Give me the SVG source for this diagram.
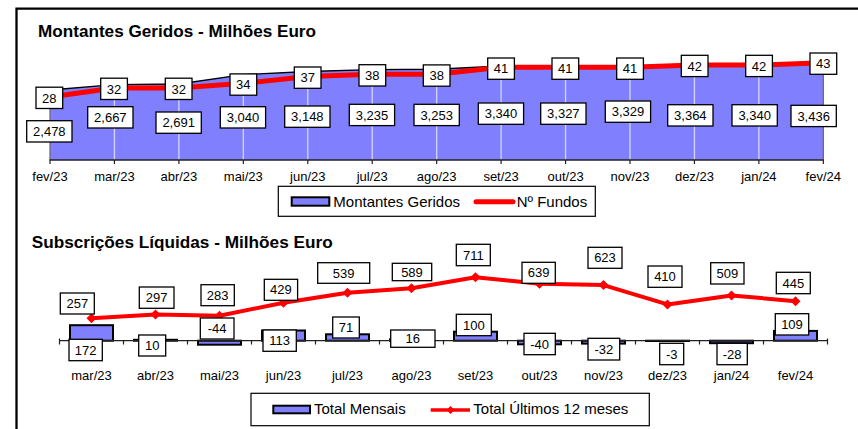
<svg xmlns="http://www.w3.org/2000/svg" width="858" height="429" viewBox="0 0 858 429">
<style>
text{font-family:"Liberation Sans",Arial,sans-serif;fill:#000}
.title{font-size:16.5px;font-weight:bold}
.ax{font-size:13px;text-anchor:middle}
.lbl{font-size:13px;text-anchor:middle}
.leg{font-size:15px}
.box{fill:#fff;stroke:#000;stroke-width:1.3}
.grid{stroke:#d4d4ff;stroke-width:1.3}
.bar{fill:#8080ff;stroke:#000;stroke-width:2}
.tick{stroke:#222;stroke-width:1.2}
</style>
<defs>
<path id="dia" d="M0,-5 L5,0 L0,5 L-5,0 Z" fill="#ff0000"/>
<path id="diaS" d="M0,-4 L4,0 L0,4 L-4,0 Z" fill="#ff0000"/>
</defs>
<rect width="858" height="429" fill="#fff"/>
<g id="frame" fill="none" stroke="#000" stroke-width="2.3">
<path d="M16.5,429 V8.7 H858"/>
</g>

<g id="chart1">
<text class="title" x="38" y="36.7" textLength="278" lengthAdjust="spacingAndGlyphs">Montantes Geridos - Milhões Euro</text>
<g id="area1">
<polygon fill="#8080ff" points="50,160 50,90 114.44,84.66 178.89,83.98 243.33,74.6 307.78,71.5 372.22,69.6 436.67,69.3 501.11,66 565.56,66 630,66 694.44,65 758.89,65.6 823.33,62.9 823.33,160"/>
<g class="grid">
<line x1="114.44" y1="85" x2="114.44" y2="160"/>
<line x1="178.89" y1="84" x2="178.89" y2="160"/>
<line x1="243.33" y1="75" x2="243.33" y2="160"/>
<line x1="307.78" y1="72" x2="307.78" y2="160"/>
<line x1="372.22" y1="70" x2="372.22" y2="160"/>
<line x1="436.67" y1="70" x2="436.67" y2="160"/>
<line x1="501.11" y1="67" x2="501.11" y2="160"/>
<line x1="565.56" y1="67" x2="565.56" y2="160"/>
<line x1="630" y1="67" x2="630" y2="160"/>
<line x1="694.44" y1="66" x2="694.44" y2="160"/>
<line x1="758.89" y1="66" x2="758.89" y2="160"/>
</g>
<polyline fill="none" stroke="#000" stroke-width="1.4" points="50,90 114.44,84.66 178.89,83.98 243.33,74.6 307.78,71.5 372.22,69.6 436.67,69.3 501.11,66 565.56,66 630,66 694.44,65 758.89,65.6 823.33,62.9"/>
<line x1="50" y1="90" x2="50" y2="160" stroke="#666" stroke-width="1.2"/>
<line x1="823.33" y1="63" x2="823.33" y2="160" stroke="#666" stroke-width="1.2"/>
</g>
<g id="axis1">
<line x1="49.5" y1="160" x2="823.8" y2="160" stroke="#222" stroke-width="1.6"/>
<g class="tick">
<line x1="50" y1="160" x2="50" y2="164"/><line x1="114.44" y1="160" x2="114.44" y2="164"/><line x1="178.89" y1="160" x2="178.89" y2="164"/><line x1="243.33" y1="160" x2="243.33" y2="164"/><line x1="307.78" y1="160" x2="307.78" y2="164"/><line x1="372.22" y1="160" x2="372.22" y2="164"/><line x1="436.67" y1="160" x2="436.67" y2="164"/><line x1="501.11" y1="160" x2="501.11" y2="164"/><line x1="565.56" y1="160" x2="565.56" y2="164"/><line x1="630" y1="160" x2="630" y2="164"/><line x1="694.44" y1="160" x2="694.44" y2="164"/><line x1="758.89" y1="160" x2="758.89" y2="164"/><line x1="823.33" y1="160" x2="823.33" y2="164"/>
</g>
<text class="ax" x="50" y="181">fev/23</text>
<text class="ax" x="114.44" y="181">mar/23</text>
<text class="ax" x="178.89" y="181">abr/23</text>
<text class="ax" x="243.33" y="181">mai/23</text>
<text class="ax" x="307.78" y="181">jun/23</text>
<text class="ax" x="372.22" y="181">jul/23</text>
<text class="ax" x="436.67" y="181">ago/23</text>
<text class="ax" x="501.11" y="181">set/23</text>
<text class="ax" x="565.56" y="181">out/23</text>
<text class="ax" x="630" y="181">nov/23</text>
<text class="ax" x="694.44" y="181">dez/23</text>
<text class="ax" x="758.89" y="181">jan/24</text>
<text class="ax" x="823.33" y="181">fev/24</text>
</g>
<g id="fundos-line">
<polyline fill="none" stroke="#ff0000" stroke-width="5" stroke-linejoin="round" points="50,97 114.44,88 178.89,88 243.33,83.3 307.78,76.5 372.22,74.2 436.67,74.2 501.11,67.3 565.56,67.3 630,67.3 694.44,65 758.89,65 823.33,62.8"/>
</g>
<g id="labels1">
<rect class="box" x="26.7" y="120.7" width="45.3" height="21.3"/><text class="lbl" x="49.35" y="136">2,478</text>
<rect class="box" x="87.7" y="106.7" width="45.3" height="21.3"/><text class="lbl" x="110.35" y="122">2,667</text>
<rect class="box" x="156" y="112" width="45.3" height="21.3"/><text class="lbl" x="178.65" y="127.3">2,691</text>
<rect class="box" x="220.3" y="106.7" width="45.3" height="21.3"/><text class="lbl" x="242.95" y="122">3,040</text>
<rect class="box" x="284.7" y="106" width="45.3" height="21.3"/><text class="lbl" x="307.35" y="121.3">3,148</text>
<rect class="box" x="349.3" y="104.3" width="45.3" height="21.3"/><text class="lbl" x="371.95" y="119.6">3,235</text>
<rect class="box" x="414" y="104.3" width="45.3" height="21.3"/><text class="lbl" x="436.65" y="119.6">3,253</text>
<rect class="box" x="478.3" y="103" width="45.3" height="21.3"/><text class="lbl" x="500.95" y="118.3">3,340</text>
<rect class="box" x="540.7" y="103" width="45.3" height="21.3"/><text class="lbl" x="563.35" y="118.3">3,327</text>
<rect class="box" x="605.3" y="101" width="45.3" height="21.3"/><text class="lbl" x="627.95" y="116.3">3,329</text>
<rect class="box" x="667.7" y="104.7" width="45.3" height="21.3"/><text class="lbl" x="690.35" y="120">3,364</text>
<rect class="box" x="732" y="104.7" width="45.3" height="21.3"/><text class="lbl" x="754.65" y="120">3,340</text>
<rect class="box" x="791" y="105.3" width="45.3" height="21.3"/><text class="lbl" x="813.65" y="120.6">3,436</text>

<rect class="box" x="36" y="87.2" width="26.7" height="21.3"/><text class="lbl" x="49.35" y="102.5">28</text>
<rect class="box" x="100.7" y="78.2" width="26.7" height="21.3"/><text class="lbl" x="114.05" y="93.5">32</text>
<rect class="box" x="165.3" y="78.2" width="26.7" height="21.3"/><text class="lbl" x="178.65" y="93.5">32</text>
<rect class="box" x="230" y="73.9" width="26.7" height="21.3"/><text class="lbl" x="243.35" y="89.2">34</text>
<rect class="box" x="294.3" y="67" width="26.7" height="21.3"/><text class="lbl" x="307.65" y="82.3">37</text>
<rect class="box" x="359" y="64.7" width="26.7" height="21.3"/><text class="lbl" x="372.35" y="80">38</text>
<rect class="box" x="423.3" y="64.9" width="26.7" height="21.3"/><text class="lbl" x="436.65" y="80.2">38</text>
<rect class="box" x="487.7" y="58" width="26.7" height="21.3"/><text class="lbl" x="501.05" y="73.3">41</text>
<rect class="box" x="552" y="58" width="26.7" height="21.3"/><text class="lbl" x="565.35" y="73.3">41</text>
<rect class="box" x="616.7" y="58" width="26.7" height="21.3"/><text class="lbl" x="630.05" y="73.3">41</text>
<rect class="box" x="681.3" y="55.3" width="26.7" height="21.3"/><text class="lbl" x="694.65" y="70.6">42</text>
<rect class="box" x="745.7" y="55.3" width="26.7" height="21.3"/><text class="lbl" x="759.05" y="70.6">42</text>
<rect class="box" x="810" y="53" width="26.7" height="21.3"/><text class="lbl" x="823.35" y="68.3">43</text>
</g>
<g id="legend1">
<rect x="278.3" y="186.3" width="317" height="30" fill="#fff" stroke="#000" stroke-width="1.2"/>
<rect x="291.7" y="197.3" width="37.6" height="8.4" fill="#8080ff" stroke="#000" stroke-width="2"/>
<text class="leg" x="333.3" y="207">Montantes Geridos</text>
<line x1="476" y1="201.7" x2="513" y2="201.7" stroke="#ff0000" stroke-width="5" stroke-linecap="round"/>
<text class="leg" x="516.7" y="207">Nº Fundos</text>
</g>
</g>

<g id="chart2">
<text class="title" x="31.7" y="248.3" textLength="301" lengthAdjust="spacingAndGlyphs">Subscrições Líquidas - Milhões Euro</text>
<g id="bars">
<rect class="bar" x="70" y="325.2" width="43" height="15.5"/>
<rect class="bar" x="134" y="339.8" width="43" height="0.9"/>
<rect class="bar" x="198" y="340.7" width="43" height="4"/>
<rect class="bar" x="262" y="330.5" width="43" height="10.2"/>
<rect class="bar" x="326" y="334.3" width="43" height="6.4"/>
<rect class="bar" x="390" y="339.3" width="43" height="1.4"/>
<rect class="bar" x="454" y="331.7" width="43" height="9"/>
<rect class="bar" x="518" y="340.7" width="43" height="3.6"/>
<rect class="bar" x="582" y="340.7" width="43" height="2.9"/>
<rect class="bar" x="646" y="340.7" width="43" height="0.3"/>
<rect class="bar" x="710" y="340.7" width="43" height="2.5"/>
<rect class="bar" x="774" y="330.9" width="43" height="9.8"/>
</g>
<g id="axis2">
<line x1="59.5" y1="340.7" x2="827.5" y2="340.7" stroke="#222" stroke-width="1.3"/>
<g class="tick">
<line x1="59.5" y1="338.5" x2="59.5" y2="344.5"/><line x1="123.5" y1="340.7" x2="123.5" y2="344.5"/><line x1="187.5" y1="340.7" x2="187.5" y2="344.5"/><line x1="251.5" y1="340.7" x2="251.5" y2="344.5"/><line x1="315.5" y1="340.7" x2="315.5" y2="344.5"/><line x1="379.5" y1="340.7" x2="379.5" y2="344.5"/><line x1="443.5" y1="340.7" x2="443.5" y2="344.5"/><line x1="507.5" y1="340.7" x2="507.5" y2="344.5"/><line x1="571.5" y1="340.7" x2="571.5" y2="344.5"/><line x1="635.5" y1="340.7" x2="635.5" y2="344.5"/><line x1="699.5" y1="340.7" x2="699.5" y2="344.5"/><line x1="763.5" y1="340.7" x2="763.5" y2="344.5"/><line x1="827.5" y1="338.5" x2="827.5" y2="344.5"/>
</g>
<text class="ax" x="91.5" y="380.3">mar/23</text>
<text class="ax" x="155.5" y="380.3">abr/23</text>
<text class="ax" x="219.5" y="380.3">mai/23</text>
<text class="ax" x="283.5" y="380.3">jun/23</text>
<text class="ax" x="347.5" y="380.3">jul/23</text>
<text class="ax" x="411.5" y="380.3">ago/23</text>
<text class="ax" x="475.5" y="380.3">set/23</text>
<text class="ax" x="539.5" y="380.3">out/23</text>
<text class="ax" x="603.5" y="380.3">nov/23</text>
<text class="ax" x="667.5" y="380.3">dez/23</text>
<text class="ax" x="731.5" y="380.3">jan/24</text>
<text class="ax" x="795.5" y="380.3">fev/24</text>
</g>
<g id="total12-line">
<polyline fill="none" stroke="#ff0000" stroke-width="4" stroke-linejoin="round" points="91.5,318.2 155.5,314.6 219.5,315.8 283.5,302.7 347.5,292.7 411.5,288.2 475.5,277.2 539.5,283.7 603.5,285.1 667.5,304.4 731.5,295.4 795.5,301.2"/>
<use href="#dia" x="91.5" y="318.2"/><use href="#dia" x="155.5" y="314.6"/><use href="#dia" x="219.5" y="315.8"/><use href="#dia" x="283.5" y="302.7"/><use href="#dia" x="347.5" y="292.7"/><use href="#dia" x="411.5" y="288.2"/><use href="#dia" x="475.5" y="277.2"/><use href="#dia" x="539.5" y="283.7"/><use href="#dia" x="603.5" y="285.1"/><use href="#dia" x="667.5" y="304.4"/><use href="#dia" x="731.5" y="295.4"/><use href="#dia" x="795.5" y="301.2"/>
</g>
<g id="labels2">
<rect class="box" x="60.3" y="293" width="34" height="21"/><text class="lbl" x="77.3" y="308.1">257</text>
<rect class="box" x="139.3" y="287" width="34.7" height="21.3"/><text class="lbl" x="156.65" y="302.3">297</text>
<rect class="box" x="201" y="284.7" width="33.3" height="21"/><text class="lbl" x="217.65" y="299.8">283</text>
<rect class="box" x="264.3" y="279.3" width="33.3" height="21"/><text class="lbl" x="280.95" y="294.4">429</text>
<rect class="box" x="317.7" y="262.7" width="52" height="20.6"/><text class="lbl" x="343.7" y="277.6">539</text>
<rect class="box" x="392.3" y="263.3" width="39.4" height="17.4"/><text class="lbl" x="412" y="276.6">589</text>
<rect class="box" x="456.3" y="244.3" width="34" height="21.4"/><text class="lbl" x="473.3" y="259.6">711</text>
<rect class="box" x="522" y="262.3" width="33.3" height="21"/><text class="lbl" x="538.65" y="277.4">639</text>
<rect class="box" x="588" y="247.3" width="34" height="21"/><text class="lbl" x="605" y="262.4">623</text>
<rect class="box" x="648" y="266" width="34" height="21.3"/><text class="lbl" x="665" y="281.3">410</text>
<rect class="box" x="710.7" y="262.7" width="33.3" height="21.3"/><text class="lbl" x="727.35" y="278">509</text>
<rect class="box" x="776.3" y="272.3" width="34" height="21.4"/><text class="lbl" x="793.3" y="287.6">445</text>

<rect class="box" x="69" y="339.3" width="33.3" height="21.4"/><text class="lbl" x="85.65" y="354.6">172</text>
<rect class="box" x="138.7" y="335" width="27" height="21"/><text class="lbl" x="152.2" y="350.1">10</text>
<rect class="box" x="200.3" y="318" width="33.7" height="21"/><text class="lbl" x="217.15" y="333.1">-44</text>
<rect class="box" x="263" y="330" width="33.3" height="21.3"/><text class="lbl" x="279.65" y="345.3">113</text>
<rect class="box" x="332.7" y="317" width="26.6" height="21"/><text class="lbl" x="346" y="332.1">71</text>
<rect class="box" x="390.7" y="330" width="44.3" height="17.3"/><text class="lbl" x="412.85" y="343.3">16</text>
<rect class="box" x="456.3" y="314.3" width="35" height="21.4"/><text class="lbl" x="473.8" y="329.6">100</text>
<rect class="box" x="524" y="333.3" width="31.3" height="21.4"/><text class="lbl" x="539.65" y="348.6">-40</text>
<rect class="box" x="588" y="338.3" width="31.7" height="21.7"/><text class="lbl" x="603.85" y="353.8">-32</text>
<rect class="box" x="659.7" y="343.3" width="24" height="21.4"/><text class="lbl" x="671.7" y="358.6">-3</text>
<rect class="box" x="717" y="343.3" width="30.3" height="21.4"/><text class="lbl" x="732.15" y="358.6">-28</text>
<rect class="box" x="775.3" y="313.7" width="33.4" height="21.3"/><text class="lbl" x="792" y="329">109</text>
</g>
<g id="legend2">
<rect x="251" y="393.3" width="398.3" height="32.4" fill="#fff" stroke="#000" stroke-width="1.2"/>
<rect x="273.3" y="405.7" width="36.7" height="7.6" fill="#8080ff" stroke="#000" stroke-width="2"/>
<text class="leg" x="314" y="414.3">Total Mensais</text>
<line x1="430.7" y1="410" x2="470" y2="410" stroke="#ff0000" stroke-width="3.5"/>
<use href="#diaS" x="450.5" y="410"/>
<text class="leg" x="473.3" y="414.3">Total Últimos 12 meses</text>
</g>
</g>
</svg>
